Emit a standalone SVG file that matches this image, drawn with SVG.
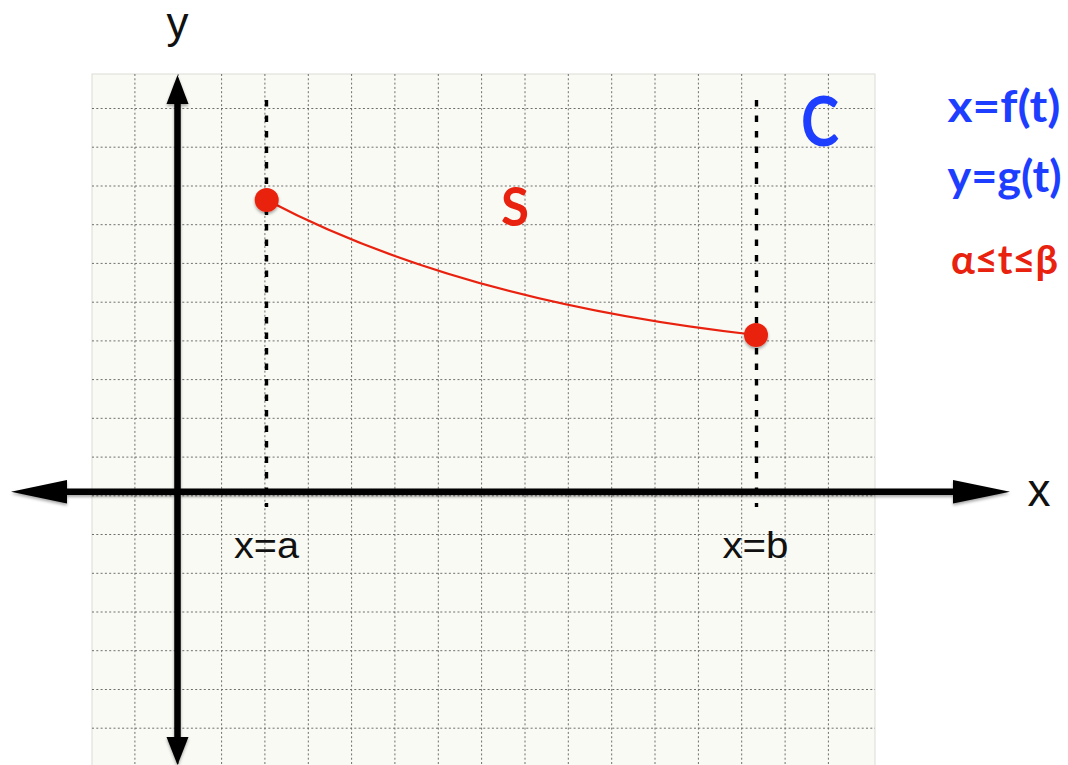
<svg xmlns="http://www.w3.org/2000/svg" width="1068" height="765" viewBox="0 0 1068 765">
<style>
.grid line{stroke:#6e6e6e;stroke-width:1;stroke-dasharray:2 2.3}
.axis{stroke:#000;stroke-width:6.5;fill:none}
.head{fill:#000}
.guide{stroke:#000;stroke-width:3.4;stroke-dasharray:6.5 9}
.lbl{font-family:"Liberation Sans",Arial,sans-serif;fill:#111}
.hand{font-family:Lato,"Open Sans",sans-serif;font-weight:bold}
.blue{fill:#1d3dff}
.red{fill:#e8220f}
</style>
<defs>
<filter id="sh" x="-20%" y="-20%" width="140%" height="140%">
<feDropShadow dx="0" dy="2" stdDeviation="1.6" flood-color="#000" flood-opacity="0.35"/>
</filter>
</defs>
<rect width="1068" height="765" fill="#fff"/>
<g id="paper">
<rect x="92" y="74" width="783" height="700" fill="#fafaf5" stroke="#dcdcd6" stroke-width="1"/>
<g class="grid">
<line x1="134.9" y1="74" x2="134.9" y2="765"/>
<line x1="178.2" y1="74" x2="178.2" y2="765"/>
<line x1="221.6" y1="74" x2="221.6" y2="765"/>
<line x1="264.9" y1="74" x2="264.9" y2="765"/>
<line x1="308.3" y1="74" x2="308.3" y2="765"/>
<line x1="351.6" y1="74" x2="351.6" y2="765"/>
<line x1="394.9" y1="74" x2="394.9" y2="765"/>
<line x1="438.3" y1="74" x2="438.3" y2="765"/>
<line x1="481.6" y1="74" x2="481.6" y2="765"/>
<line x1="525.0" y1="74" x2="525.0" y2="765"/>
<line x1="568.3" y1="74" x2="568.3" y2="765"/>
<line x1="611.7" y1="74" x2="611.7" y2="765"/>
<line x1="655.0" y1="74" x2="655.0" y2="765"/>
<line x1="698.4" y1="74" x2="698.4" y2="765"/>
<line x1="741.7" y1="74" x2="741.7" y2="765"/>
<line x1="785.1" y1="74" x2="785.1" y2="765"/>
<line x1="828.4" y1="74" x2="828.4" y2="765"/>
<line x1="92" y1="108.5" x2="875" y2="108.5"/>
<line x1="92" y1="147.2" x2="875" y2="147.2"/>
<line x1="92" y1="186.0" x2="875" y2="186.0"/>
<line x1="92" y1="224.7" x2="875" y2="224.7"/>
<line x1="92" y1="263.4" x2="875" y2="263.4"/>
<line x1="92" y1="302.2" x2="875" y2="302.2"/>
<line x1="92" y1="340.9" x2="875" y2="340.9"/>
<line x1="92" y1="379.6" x2="875" y2="379.6"/>
<line x1="92" y1="418.3" x2="875" y2="418.3"/>
<line x1="92" y1="457.1" x2="875" y2="457.1"/>
<line x1="92" y1="495.8" x2="875" y2="495.8"/>
<line x1="92" y1="534.5" x2="875" y2="534.5"/>
<line x1="92" y1="573.3" x2="875" y2="573.3"/>
<line x1="92" y1="612.0" x2="875" y2="612.0"/>
<line x1="92" y1="650.7" x2="875" y2="650.7"/>
<line x1="92" y1="689.5" x2="875" y2="689.5"/>
<line x1="92" y1="728.2" x2="875" y2="728.2"/>
</g>
</g>
<g id="guides">
<line class="guide" x1="266.5" y1="100" x2="266.5" y2="507"/>
<line class="guide" x1="756.5" y1="100" x2="756.5" y2="507"/>
</g>
<g id="axes" filter="url(#sh)">
<line class="axis" x1="177.5" y1="100" x2="177.5" y2="740"/>
<polygon class="head" points="177.5,75 166.5,104 188.5,104"/>
<polygon class="head" points="177.5,765 166.5,737 188.5,737"/>
<line class="axis" x1="64" y1="491.7" x2="956" y2="491.7"/>
<polygon class="head" points="11,491.7 67,480 67,503.5"/>
<polygon class="head" points="1010,491.7 953,480 953,503.5"/>
</g>
<g id="connectors">
<path d="M266.7,200 Q460,302 756,335" fill="none" stroke="#e8220f" stroke-width="2.2"/>
</g>
<g id="point-a" filter="url(#sh)">
<circle cx="266.7" cy="200" r="12" fill="#e8220f"/>
</g>
<g id="point-b" filter="url(#sh)">
<circle cx="756" cy="335" r="12" fill="#e8220f"/>
</g>
<g id="labels">
<text class="lbl" x="177.6" y="38" font-size="44" text-anchor="middle">y</text>
<text class="lbl" x="1039" y="506" font-size="46" text-anchor="middle">x</text>
<text class="lbl" x="234" y="558.3" font-size="36" textLength="65" lengthAdjust="spacingAndGlyphs">x=a</text>
<text class="lbl" x="722.5" y="558.3" font-size="36" textLength="66" lengthAdjust="spacingAndGlyphs">x=b</text>
</g>
<g id="curve-labels">
<text class="hand red" x="501" y="226" font-size="54" textLength="28" lengthAdjust="spacingAndGlyphs">S</text>
<text class="hand blue" x="801" y="145.5" font-size="68" textLength="38" lengthAdjust="spacingAndGlyphs">C</text>
</g>
<g id="equations">
<text class="hand blue" x="947.5" y="121.7" font-size="44" textLength="113" lengthAdjust="spacingAndGlyphs">x=f(t)</text>
<text class="hand blue" x="947.5" y="191.7" font-size="44" textLength="114" lengthAdjust="spacingAndGlyphs">y=g(t)</text>
<text class="hand red" x="951" y="273.5" font-size="40" textLength="107" lengthAdjust="spacingAndGlyphs">α≤t≤β</text>
</g>
</svg>
